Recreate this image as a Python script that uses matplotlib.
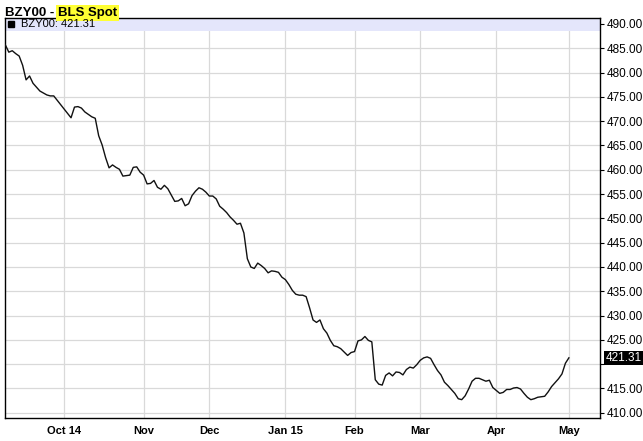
import numpy as np
import matplotlib.pyplot as plt
from matplotlib.patches import Rectangle

plt.rcParams['font.family'] = ['Liberation Sans', 'DejaVu Sans']

# daily closes, one per trading day (mid Sep 2014 - May 1 2015)
prices = [
    485.7, 484.2, 484.5, 483.9, 483.4, 481.5, 478.5, 479.3, 477.8, 477.0,
    476.2, 475.8, 475.4, 475.2, 475.2, 474.3, 473.4, 472.5, 471.6, 470.7,
    472.9, 473.0, 472.7, 471.9, 471.4, 470.9, 470.6, 467.0, 465.1, 462.5,
    460.4, 461.0, 460.5, 460.1, 458.7, 458.8, 458.9, 460.5, 460.6, 459.5,
    458.9, 457.1, 457.2, 457.8, 456.4, 456.0, 456.8, 456.1, 454.8, 453.5,
    453.6, 454.1, 452.6, 453.0, 454.7, 455.6, 456.3, 456.0, 455.4, 454.6,
    454.6, 454.0, 452.5, 451.9, 451.2, 450.3, 449.6, 448.8, 449.0, 447.0,
    441.7, 440.0, 439.7, 440.8, 440.3, 439.7, 438.8, 439.2, 439.1, 438.9,
    437.9, 437.4, 436.4, 435.2, 434.4, 434.2, 434.2, 433.9, 431.6, 429.1,
    428.6, 429.1, 427.3, 426.4, 424.9, 423.8, 423.6, 423.2, 422.5, 421.8,
    422.4, 422.6, 424.8, 425.0, 425.7, 424.9, 424.6, 416.8, 415.9, 415.7,
    417.7, 418.2, 417.6, 418.4, 418.3, 417.8, 418.9, 419.4, 419.2, 419.9,
    420.8, 421.3, 421.5, 421.2, 419.9, 418.7, 417.8, 416.3, 415.6, 414.8,
    414.0, 412.9, 412.7, 413.5, 414.9, 416.5, 417.1, 417.1, 416.8, 416.5,
    416.7, 415.2, 414.6, 414.0, 414.2, 414.8, 414.8, 415.1, 415.2, 414.9,
    414.0, 413.2, 412.7, 412.9, 413.2, 413.3, 413.4, 414.3, 415.4, 416.2,
    417.0, 418.0, 420.2, 421.31,
]
# trading-day index of the first session of each month
month_idx = [17, 40, 59, 81, 101, 120, 142, 163]
month_labels = ['Oct 14', 'Nov', 'Dec', 'Jan 15', 'Feb', 'Mar', 'Apr', 'May']
last = prices[-1]

fig = plt.figure(figsize=(6.43, 4.41), dpi=100)
ax = fig.add_axes([5 / 643, 23 / 441, 595 / 643, 400 / 441])

x = np.arange(len(prices))
ax.plot(x, prices, color='#111111', lw=1.0, zorder=3)

ax.set_xlim(-0.1, 172)
ax.set_ylim(408.93, 491.23)
ax.set_yticks(np.arange(410, 491, 5))
# the last-value tag sits where the 420 label would be
ax.yaxis.set_major_formatter(
    plt.FuncFormatter(lambda v, p: '' if abs(v - last) < 2.5 else f'{v:.2f}'))
ax.yaxis.tick_right()
ax.tick_params(axis='y', direction='out', length=3, width=0.8, pad=2,
               labelsize=8.5, colors='black')
ax.set_xticks(month_idx)
ax.set_xticklabels(month_labels, fontweight='bold', fontsize=8)
ax.tick_params(axis='x', length=0, pad=6)
ax.grid(True, color='#d9d9d9', lw=0.9)
ax.set_axisbelow(True)
for s in ax.spines.values():
    s.set_linewidth(1.0)
    s.set_color('black')

# legend band across the top
ax.add_patch(Rectangle((0, 1 - 13 / 400), 1, 13 / 400, transform=ax.transAxes,
                       facecolor='#e4e6fb', edgecolor='none', zorder=2))
ax.plot([0.0105], [1 - 6.5 / 400], marker='s', ms=5, color='black',
        transform=ax.transAxes, zorder=4, clip_on=False)
ax.text(0.027, 1 - 6.5 / 400, f'BZY00: {last:.2f}', transform=ax.transAxes,
        fontsize=8, va='center', ha='left', zorder=4)

# last value tag on the right axis
ax.annotate(f'{last:.2f}', xy=(1, last), xycoords=ax.get_yaxis_transform(),
            xytext=(4, 0), textcoords='offset points', va='center', ha='left',
            fontsize=8.5, color='white',
            bbox=dict(boxstyle='square,pad=0.1', fc='black', ec='none'))

# title
t1 = fig.text(5 / 643, 1 - 16 / 441, 'BZY00 - ', fontsize=9.5, fontweight='bold',
              va='baseline', ha='left')
ax.annotate('BLS Spot', xy=(1, 0), xycoords=t1, va='bottom', ha='left',
            fontsize=9.5, fontweight='bold',
            bbox=dict(boxstyle='square,pad=0.12', fc='#ffff33', ec='none'),
            annotation_clip=False)

fig.savefig('out.png', dpi=100)
